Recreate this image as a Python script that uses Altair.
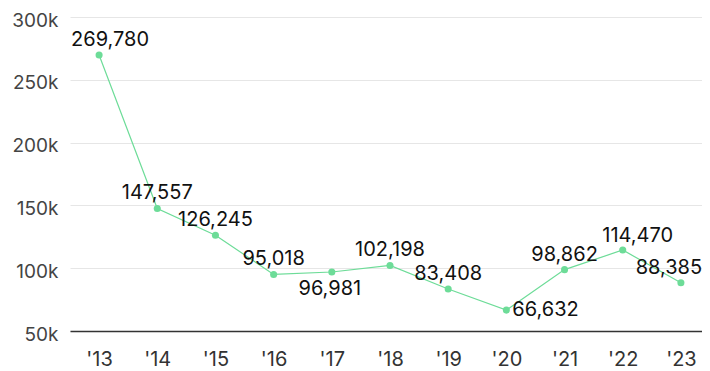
import altair as alt
import pandas as pd

years = ["'13", "'14", "'15", "'16", "'17", "'18", "'19", "'20", "'21", "'22", "'23"]
values = [269780, 147557, 126245, 95018, 96981, 102198, 83408, 66632, 98862, 114470, 88385]
labels = ["269,780", "147,557", "126,245", "95,018", "96,981", "102,198", "83,408", "66,632", "98,862", "114,470", "88,385"]

df = pd.DataFrame({"year": years, "value": values, "label": labels})

FONT = "Inter"
GREEN = "#6ddc98"

xscale = alt.Scale(type="point", range=[0, 640], padding=0.5)
yscale = alt.Scale(domain=[50000, 300000], nice=False, zero=False)

x = alt.X("year:N", sort=years, title=None, scale=xscale,
          axis=alt.Axis(labelAngle=0, labelFontSize=20, labelColor="#333333",
                        labelFont=FONT, ticks=False, labelPadding=18,
                        domainColor="#333333", domainWidth=1.5, grid=False))
y = alt.Y("value:Q", title=None, scale=yscale,
          axis=alt.Axis(values=[50000, 100000, 150000, 200000, 250000, 300000],
                        format="~s", labelFontSize=19, labelColor="#444444",
                        labelFont=FONT, ticks=False, domain=False, labelPadding=12,
                        labelOffset=3, gridColor="#e6e6e6"))

base = alt.Chart(df).encode(x=x, y=y)

line = base.mark_line(color=GREEN, strokeWidth=1.2)
pts = base.mark_circle(color=GREEN, size=50, opacity=1)

def lbl(yrs, **kw):
    return alt.Chart(df).transform_filter(
        alt.FieldOneOfPredicate(field="year", oneOf=yrs)
    ).mark_text(font=FONT, fontSize=20, color="#111111", **kw).encode(
        x=alt.X("year:N", sort=years, scale=xscale),
        y=alt.Y("value:Q", scale=yscale),
        text="label:N")

above = lbl(["'14", "'15", "'16", "'18", "'19", "'21"], baseline="bottom", dy=-5)
first = lbl(["'13"], baseline="bottom", dy=-5, dx=11)
p22 = lbl(["'22"], baseline="bottom", dy=-4, dx=15)
p23 = lbl(["'23"], baseline="bottom", dy=-5, dx=-12)
below = lbl(["'17"], baseline="top", dy=7, dx=-2)
right = lbl(["'20"], align="left", baseline="middle", dx=6)

chart = alt.layer(line, pts, above, first, p22, p23, below, right).properties(
    width=632, height=314,
    autosize=alt.AutoSizeParams(type="none"),
    padding={"left": 62, "top": 9, "right": 0, "bottom": 40},
).configure_view(stroke=None)

chart.save("out.html", embed_options={"renderer": "svg", "actions": False})
